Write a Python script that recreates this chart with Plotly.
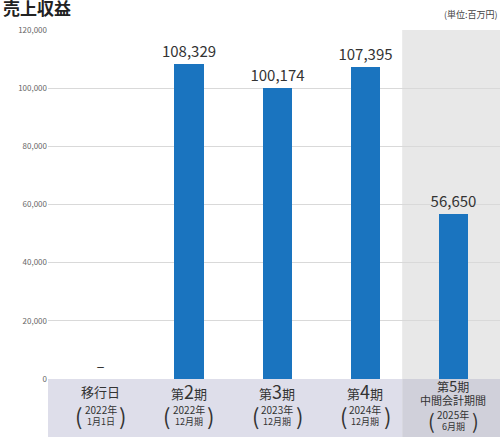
import plotly.graph_objects as go

categories = ["移行日", "第2期", "第3期", "第4期", "第5期"]
values = [0, 108329, 100174, 107395, 56650]
value_labels = ["–", "108,329", "100,174", "107,395", "56,650"]
period_top = ["移行日", "第<span style='font-size:18px'>2</span>期", "第<span style='font-size:18px'>3</span>期",
              "第<span style='font-size:18px'>4</span>期", "第<span style='font-size:15px'>5</span>期"]
period_sub1 = ["2022年", "2022年", "2023年", "2024年", "2025年"]
period_sub2 = ["1月1日", "12月期", "12月期", "12月期", "6月期"]
y_ticks = [0, 20000, 40000, 60000, 80000, 100000, 120000]
y_tick_text = ["0", "20,000", "40,000", "60,000", "80,000", "100,000", "120,000"]

FONT = "Noto Sans CJK JP"
PLOT_H = 349
def py(px):  # pixel offset below axis (positive = down) -> paper coordinate
    return -px / PLOT_H

fig = go.Figure()
fig.add_trace(go.Bar(
    x=categories, y=values, width=0.33,
    marker=dict(color="#1a74bf", line=dict(width=0)),
    text=value_labels, textposition="outside", cliponaxis=False, constraintext="none",
    textfont=dict(family=FONT, size=15, color="#333333"),
))

shapes = []
shapes.append(dict(type="rect", xref="x", yref="paper", x0=3.42, x1=4.6, y0=0, y1=1,
                   fillcolor="#e8e8e8", line=dict(width=0), layer="below"))
shapes.append(dict(type="rect", xref="x", yref="paper", x0=-0.6, x1=3.42, y0=py(60), y1=0,
                   fillcolor="#dedeea", line=dict(width=0), layer="below"))
shapes.append(dict(type="rect", xref="x", yref="paper", x0=3.42, x1=4.6, y0=py(60), y1=0,
                   fillcolor="#d0d0da", line=dict(width=0), layer="below"))

annotations = []
annotations.append(dict(text="<b>売上収益</b>", xref="paper", yref="paper", x=-0.105, y=1.0,
                        yshift=23, xanchor="left", yanchor="middle", showarrow=False,
                        font=dict(family=FONT, size=17, color="#222222")))
annotations.append(dict(text="(単位:百万円)", xref="paper", yref="paper", x=1.0, y=1.0,
                        yshift=16, xanchor="right", yanchor="middle", showarrow=False,
                        font=dict(family=FONT, size=9, color="#444444")))
for i, cat in enumerate(categories):
    col = "#333333"
    if i < 4:
        annotations.append(dict(text=period_top[i], x=i, xref="x", yref="paper", y=py(12),
                                yanchor="middle", showarrow=False,
                                font=dict(family=FONT, size=13, color=col)))
        ys = [py(30), py(42)]
        pc = py(36)
        psz = 22
    else:
        annotations.append(dict(text=period_top[i], x=i, xref="x", yref="paper", y=py(6),
                                yanchor="middle", showarrow=False,
                                font=dict(family=FONT, size=12, color=col)))
        annotations.append(dict(text="中間会計期間", x=i, xref="x", yref="paper", y=py(21),
                                yanchor="middle", showarrow=False,
                                font=dict(family=FONT, size=11, color=col)))
        ys = [py(35), py(47)]
        pc = py(41)
        psz = 20
    annotations.append(dict(text=period_sub1[i], x=i, xref="x", yref="paper", y=ys[0],
                            yanchor="middle", showarrow=False,
                            font=dict(family=FONT, size=10, color=col)))
    annotations.append(dict(text=period_sub2[i], x=i, xref="x", yref="paper", y=ys[1],
                            yanchor="middle", showarrow=False,
                            font=dict(family=FONT, size=9, color=col)))
    annotations.append(dict(text="(", x=i, xref="x", xshift=-22, yref="paper", y=pc,
                            yanchor="middle", showarrow=False,
                            font=dict(family=FONT, size=psz, color=col)))
    annotations.append(dict(text=")", x=i, xref="x", xshift=22, yref="paper", y=pc,
                            yanchor="middle", showarrow=False,
                            font=dict(family=FONT, size=psz, color=col)))

fig.update_layout(
    width=500, height=437,
    margin=dict(l=48, r=0, t=30, b=58),
    paper_bgcolor="white", plot_bgcolor="rgba(0,0,0,0)",
    showlegend=False, shapes=shapes, annotations=annotations,
    bargap=0,
    xaxis=dict(type="category", range=[-0.6, 4.53], showticklabels=False, showgrid=False,
               zeroline=False, showline=False, ticks=""),
    yaxis=dict(range=[0, 120000], tickvals=y_ticks, ticktext=y_tick_text,
               showgrid=True, gridcolor="#d9d9d9", gridwidth=1, zeroline=False,
               ticks="", ticklen=0, tickfont=dict(family=FONT, size=8, color="#666666")),
)

fig.write_html("out.html", config={"displayModeBar": False},
               post_script="document.body.style.margin='0';document.body.style.overflow='hidden';")
